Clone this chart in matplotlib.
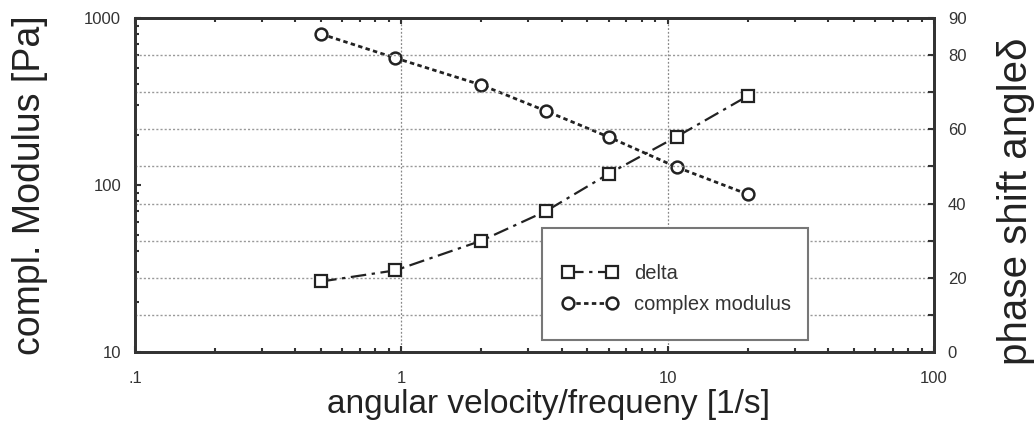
import matplotlib
matplotlib.use('Agg')
from matplotlib import pyplot as plt
from matplotlib.patches import Rectangle
from matplotlib.ticker import FixedLocator, LogLocator, NullFormatter

# angular velocity [1/s]
omega = [0.5, 0.95, 2.0, 3.5, 6.0, 10.8, 20.0]
# complex modulus [Pa], left log axis
modulus = [802, 576, 397, 277, 194, 128, 88]
# phase shift angle delta [deg], right axis
delta = [19, 22, 30, 38, 48, 58, 69]

x_ticks = [0.1, 1, 10, 100]
x_labels = ['.1', '1', '10', '100']
y_ticks = [10, 100, 1000]
y_labels = ['10', '100', '1000']
d_ticks = [0, 10, 20, 30, 40, 50, 60, 70, 80, 90]
d_labels = ['0', '', '20', '', '40', '', '60', '', '80', '90']


def plot_chart():
	plt.rcParams['font.family'] = ['Liberation Sans', 'DejaVu Sans']
	fg = '#333333'

	fig = plt.figure(figsize=(10.35, 4.32), dpi=100)
	ax = fig.add_axes([0.1304, 0.1852, 0.772, 0.7731])
	ax2 = ax.twinx()

	ax.set_xscale('log')
	ax.set_yscale('log')
	ax.set_xlim(0.1, 100)
	ax.set_ylim(10, 1000)
	ax2.set_ylim(0, 90)

	# grid: vertical at decades, horizontal at right axis steps
	for xv in [1, 10]:
		ax.axvline(xv, color='#888888', lw=0.9, ls=(0, (1.5, 1.5)), zorder=0)
	for dv in d_ticks[1:-1]:
		ax2.axhline(dv, color='#999999', lw=1.0, ls=(0, (1.5, 1.5)), zorder=0)

	l1, = ax2.plot(omega, delta, color='#222222', lw=1.6, ls=(0, (7, 2.5, 1.5, 2.5)),
		marker='s', ms=8.5, mfc='white', mec='#222222', mew=1.6, label='delta')
	l2, = ax.plot(omega, modulus, color='#222222', lw=2.0, ls=(0, (1.6, 1.2)),
		marker='o', ms=8.5, mfc='white', mec='#222222', mew=1.8, label='complex modulus')

	ax.xaxis.set_major_locator(FixedLocator(x_ticks))
	ax.set_xticklabels(x_labels)
	ax.xaxis.set_minor_locator(LogLocator(base=10, subs=range(2, 10)))
	ax.xaxis.set_minor_formatter(NullFormatter())
	ax.yaxis.set_major_locator(FixedLocator(y_ticks))
	ax.set_yticklabels(y_labels)
	ax.yaxis.set_minor_locator(LogLocator(base=10, subs=range(2, 10)))
	ax.yaxis.set_minor_formatter(NullFormatter())
	ax2.yaxis.set_major_locator(FixedLocator(d_ticks))
	ax2.set_yticklabels(d_labels)

	ax.tick_params(which='both', direction='in', top=True, right=False, colors=fg,
		labelsize=12, pad=10, width=1.5)
	ax.tick_params(axis='x', pad=14)
	ax.tick_params(which='major', length=4)
	ax.tick_params(which='minor', length=3)
	ax2.tick_params(direction='in', colors=fg, labelsize=12, pad=10, length=4, width=1.5)

	for a in (ax, ax2):
		for s in a.spines.values():
			s.set_linewidth(2.0)
			s.set_color(fg)

	ax.set_xlabel('angular velocity/frequeny [1/s]', fontsize=24, color='#222222')
	ax.xaxis.set_label_coords(0.518, -0.11)
	ax.set_ylabel('compl. Modulus [Pa]', fontsize=27, color='#222222', labelpad=26)
	ax2.set_ylabel('phase shift angle\u03b4', fontsize=29, color='#222222')
	ax2.yaxis.set_label_coords(1.079, 0.45)

	# legend box
	box = Rectangle((0.509, 0.036), 0.333, 0.335, transform=ax.transAxes,
		facecolor='white', edgecolor='#777777', lw=1.5, zorder=5)
	ax2.add_patch(box)
	leg = ax2.legend([l1, l2], ['delta', 'complex modulus'], loc='upper left',
		bbox_to_anchor=(0.534, 0.263), bbox_transform=ax.transAxes, frameon=False,
		fontsize=14.5, numpoints=2, handlelength=2.8, handletextpad=0.8,
		labelspacing=0.6, borderpad=0, borderaxespad=0)
	leg.set_zorder(6)
	for t in leg.get_texts():
		t.set_color('#333333')

	fig.savefig('out.png', dpi=100)
	return


def main():
	plot_chart()

if __name__ == '__main__':
	main()
